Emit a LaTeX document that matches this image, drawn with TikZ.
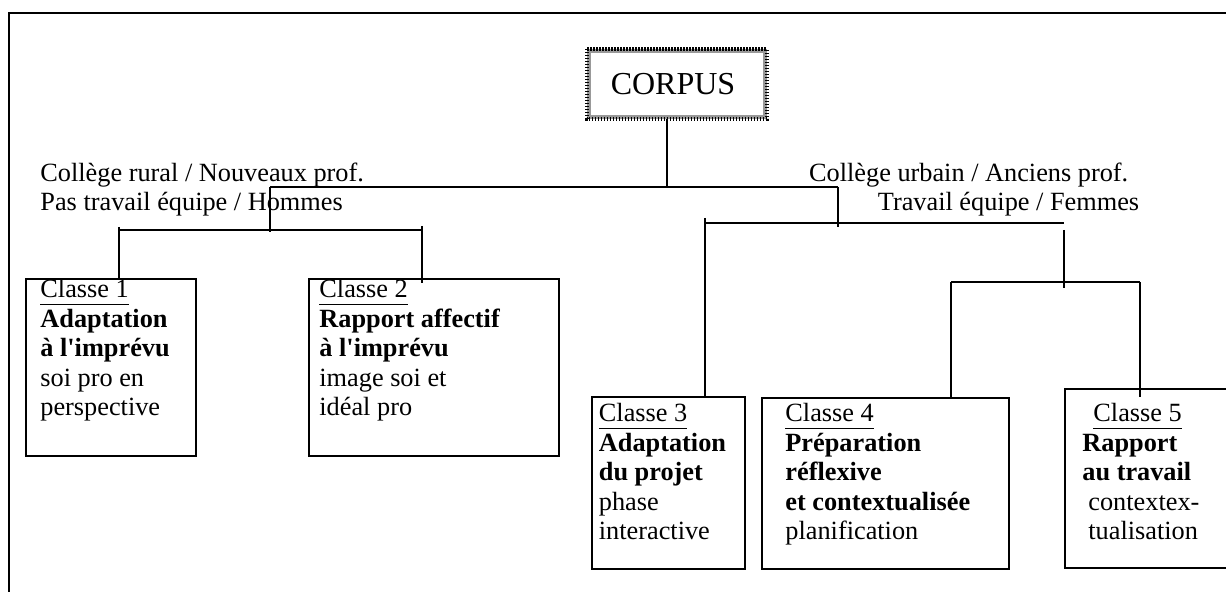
\documentclass[tikz,border=0pt]{standalone}
\usepackage{fontspec}
\setmainfont{Liberation Serif}
\usetikzlibrary{positioning,calc}

\newcommand{\classname}[1]{\underline{#1\rule[-2pt]{0pt}{0pt}}}

\begin{document}
\begin{tikzpicture}[
    x=0.5pt, y=-0.5pt,
    corpusbox/.style={rectangle, draw=black!40, line width=2pt, minimum width=88pt, minimum height=33pt, font=\fontsize{16pt}{18pt}\selectfont},
    classbox/.style={rectangle, draw, line width=1pt, anchor=north west, inner sep=0pt},
    classtext/.style={anchor=base west, align=left, inner sep=0pt, font=\fontsize{13.15pt}{14.75pt}\selectfont},
    grouptext/.style={anchor=base west, align=left, inner sep=0pt, font=\fontsize{13.15pt}{14.5pt}\selectfont},
    branch/.style={line width=0.9pt}
]
    \useasboundingbox (0,0) rectangle (1226,592);

    % Frame
    \draw[line width=1.2pt] (9,600) -- (9,13) -- (1240,13);

    % Corpus
    \node[corpusbox] (corpus) at (676.5,84) {CORPUS\hspace*{3.5pt}};
    \draw[line width=2pt, dash pattern=on 0.7pt off 0.8pt] (corpus.north west) rectangle (corpus.south east);

    % Groups (anchored at the last baseline)
    \node[grouptext] (rural) at (40,211) {Collège rural / Nouveaux prof.\\Pas travail équipe / Hommes};
    \node[grouptext] (urbain) at (808.7,211) {Collège urbain / Anciens prof.\\\hspace*{34.4pt}Travail équipe / Femmes};

    % Classe 1
    \node[classbox, minimum width=85pt, minimum height=88.5pt] (b1) at (25,278) {};
    \node[classtext] (c1) at ($(b1.north west)+(15,138)$) {\classname{Classe 1}\\\textbf{Adaptation}\\\textbf{à l\textquotesingle imprévu}\\soi pro en\\perspective};

    % Classe 2
    \node[classbox, minimum width=125pt, minimum height=88.5pt] (b2) at (308,278) {};
    \node[classtext] (c2) at ($(b2.north west)+(11,138)$) {\classname{Classe 2}\\\textbf{Rapport affectif}\\\textbf{à l\textquotesingle imprévu}\\image soi et\\idéal pro};

    % Classe 3
    \node[classbox, minimum width=76.5pt, minimum height=86pt] (b3) at (591,396) {};
    \node[classtext] (c3) at ($(b3.north west)+(7.5,144)$) {\classname{Classe 3}\\\textbf{Adaptation}\\\textbf{du projet}\\phase\\interactive};

    % Classe 4
    \node[classbox, minimum width=123.5pt, minimum height=85.5pt] (b4) at (761,397) {};
    \node[classtext] (c4) at ($(b4.north west)+(24,143)$) {\classname{Classe 4}\\\textbf{Préparation}\\\textbf{réflexive}\\\textbf{et contextualisée}\\planification};

    % Classe 5
    \node[classbox, minimum width=100pt, minimum height=89.5pt] (b5) at (1064,388) {};
    \node[classtext] (c5) at ($(b5.north west)+(18,152)$) {\hspace*{5.5pt}\classname{Classe 5}\\\textbf{Rapport}\\\textbf{au travail}\\\hspace*{3pt}contextex-\\\hspace*{3pt}tualisation};

    % Branches
    \coordinate (top) at (667,187);
    \coordinate (jl) at (270,187);
    \coordinate (jr) at (838,187);
    \draw[branch] (corpus.south -| top) -- (top);
    \draw[branch] (jl) -- (jr);

    % Left branches
    \coordinate (l1) at (119,230);
    \coordinate (l2) at (422,230);
    \draw[branch] (jl) -- ++(0,45);
    \draw[branch] (l1) -- (l2);
    \draw[branch] ($(l1)+(0,-3)$) -- (l1 |- b1.north);
    \draw[branch] ($(l2)+(0,-4)$) -- ($(l2 |- b2.north)+(0,5)$);

    % Right branches
    \coordinate (r3) at (705,223);
    \coordinate (rj) at (1064,223);
    \coordinate (r4) at (951,282);
    \coordinate (r5) at (1140,282);
    \draw[branch] (jr) -- ++(0,40);
    \draw[branch] (r3) -- (rj);
    \draw[branch] ($(r3)+(0,-5)$) -- (r3 |- b3.north);
    \draw[branch] ($(rj)+(0,7)$) -- ($(rj)+(0,65)$);
    \draw[branch] (r4) -- (r5);
    \draw[branch] (r4) -- (r4 |- b4.north);
    \draw[branch] (r5) -- ($(r5 |- b5.north)+(0,9)$);
\end{tikzpicture}
\end{document}
